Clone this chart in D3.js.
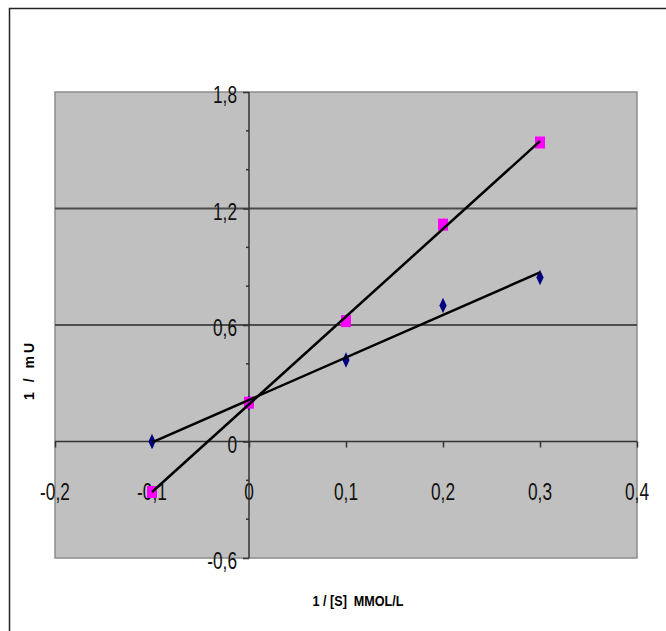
<!DOCTYPE html>
<html>
<head>
<meta charset="utf-8">
<script src="https://cdn.jsdelivr.net/npm/d3@7"></script>
<style>
	body { margin: 0; background: #fff; }
	svg text { font-family: "Liberation Sans", Arial, sans-serif; }
	.title { font-weight: bold; font-size: 14px; white-space: pre; }
</style>
</head>
<body>
<div id="chart"></div>
<script>
// data
var xValues  = [-0.1, 0, 0.1, 0.2, 0.3];
var series1  = [0.0, 0.2, 0.42, 0.70, 0.845];   // navy diamonds
var series2  = [-0.26, 0.2, 0.62, 1.117, 1.54]; // magenta squares
var xTicks   = [-0.2, -0.1, 0, 0.1, 0.2, 0.3, 0.4];
var yTicks   = [-0.6, 0, 0.6, 1.2, 1.8];
var yMinor   = [-0.4, -0.2, 0.2, 0.4, 0.8, 1.0, 1.4, 1.6];
var yGrid    = [0.6, 1.2];

var width = 666, height = 631;
var margin = {top: 92, right: 29, bottom: 73, left: 55};
var viewWidth  = width - margin.left - margin.right;
var viewHeight = height - margin.top - margin.bottom;

var svg = d3.select('#chart').append('svg')
	.attr('width', width)
	.attr('height', height);

// outer frame (runs off the right / bottom of the page)
svg.append('rect')
	.attr('x', 9.5).attr('y', 8.5)
	.attr('width', 700).attr('height', 700)
	.attr('fill', 'none')
	.attr('stroke', '#222')
	.attr('stroke-width', 1.5);

var vis = svg.append('g')
	.attr('transform', 'translate(' + margin.left + ',' + margin.top + ')');

var xScale = d3.scaleLinear().domain([-0.2, 0.4]).range([0, viewWidth]);
var yScale = d3.scaleLinear().domain([-0.6, 1.8]).range([viewHeight, 0]);

// decimal comma, plain hyphen for minus
var fmt = function(d) { return String(d).replace('.', ','); };

// plot area
vis.append('rect')
	.attr('width', viewWidth)
	.attr('height', viewHeight)
	.attr('fill', '#c0c0c0')
	.attr('stroke', '#8c8c8c')
	.attr('stroke-width', 1.5);

// gridlines
vis.selectAll('.grid')
	.data(yGrid)
	.enter().append('line')
	.attr('x1', 0).attr('x2', viewWidth)
	.attr('y1', function(d) { return yScale(d); })
	.attr('y2', function(d) { return yScale(d); })
	.attr('stroke', '#4d4d4d')
	.attr('stroke-width', 2);

// x axis at y = 0
var xAxis = d3.axisBottom(xScale)
	.tickValues(xTicks)
	.tickSize(6)
	.tickFormat('');
var gx = vis.append('g')
	.attr('transform', 'translate(0,' + yScale(0) + ')')
	.call(xAxis);
gx.select('.domain').remove();
gx.selectAll('line').attr('stroke', '#333').attr('stroke-width', 1.5);
gx.append('line')
	.attr('x1', 0).attr('x2', viewWidth)
	.attr('stroke', '#333').attr('stroke-width', 1.5);

vis.append('g').selectAll('text')
	.data(xTicks)
	.enter().append('text')
	.attr('transform', function(d) {
		return 'translate(' + xScale(d) + ',' + (yScale(0) + 58) + ') scale(0.72,1)';
	})
	.attr('text-anchor', 'middle')
	.attr('font-size', 24)
	.attr('fill', '#111')
	.text(fmt);

// y axis at x = 0
var yAxis = d3.axisLeft(yScale)
	.tickValues(yTicks)
	.tickSize(6)
	.tickFormat('');
var gy = vis.append('g')
	.attr('transform', 'translate(' + xScale(0) + ',0)')
	.call(yAxis);
gy.select('.domain').remove();
gy.selectAll('line').attr('stroke', '#333').attr('stroke-width', 1.5);
gy.append('line')
	.attr('y1', 0).attr('y2', viewHeight)
	.attr('stroke', '#333').attr('stroke-width', 1.5);
gy.selectAll('.minor')
	.data(yMinor)
	.enter().append('line')
	.attr('x1', -3).attr('x2', 0)
	.attr('y1', function(d) { return yScale(d); })
	.attr('y2', function(d) { return yScale(d); })
	.attr('stroke', '#333').attr('stroke-width', 1.5);

vis.append('g').selectAll('text')
	.data(yTicks)
	.enter().append('text')
	.attr('transform', function(d) {
		return 'translate(' + (xScale(0) - 12) + ',' + (yScale(d) + 11) + ') scale(0.72,1)';
	})
	.attr('text-anchor', 'end')
	.attr('font-size', 24)
	.attr('fill', '#111')
	.text(fmt);

// least-squares trend lines
function fit(xs, ys) {
	var mx = d3.mean(xs), my = d3.mean(ys);
	var num = d3.sum(xs, function(x, i) { return (x - mx) * (ys[i] - my); });
	var den = d3.sum(xs, function(x) { return (x - mx) * (x - mx); });
	var b = num / den;
	return function(x) { return my + b * (x - mx); };
}
var line = d3.line()
	.x(function(d) { return xScale(d[0]); })
	.y(function(d) { return yScale(d[1]); });
var xExt = d3.extent(xValues);

// markers
vis.selectAll('.diamond')
	.data(series1)
	.enter().append('path')
	.attr('d', d3.symbol().type(d3.symbolDiamond).size(70))
	.attr('transform', function(d, i) {
		return 'translate(' + xScale(xValues[i]) + ',' + yScale(d) + ') scale(0.8,1)';
	})
	.attr('fill', '#000080');

vis.selectAll('.square')
	.data(series2)
	.enter().append('rect')
	.attr('x', function(d, i) { return xScale(xValues[i]) - 5; })
	.attr('y', function(d) { return yScale(d) - 6; })
	.attr('width', 10).attr('height', 12)
	.attr('fill', '#ff00ff');

[series1, series2].forEach(function(s) {
	var f = fit(xValues, s);
	vis.append('path')
		.attr('d', line(xExt.map(function(x) { return [x, f(x)]; })))
		.attr('fill', 'none')
		.attr('stroke', '#000')
		.attr('stroke-width', 2.5);
});

// axis titles
svg.append('text')
	.attr('class', 'title')
	.attr('transform', 'translate(34,370) rotate(-90)')
	.attr('text-anchor', 'middle')
	.attr('letter-spacing', 3)
	.text('1 / mU');

svg.append('text')
	.attr('class', 'title')
	.attr('transform', 'translate(358,606) scale(0.9,1)')
	.attr('text-anchor', 'middle')
	.text('1 / [S]  MMOL/L');
</script>
</body>
</html>
